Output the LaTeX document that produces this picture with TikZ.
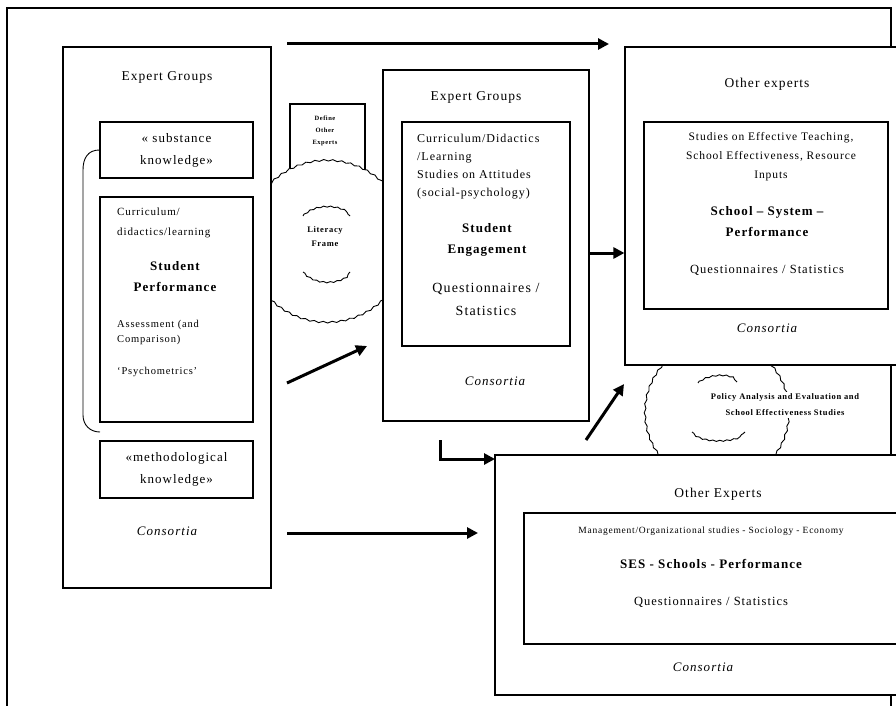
\documentclass[tikz,border=0pt]{standalone}
\usepackage{fontspec}
\setmainfont{Liberation Serif}[LetterSpace=8]
\usetikzlibrary{arrows.meta,decorations.pathmorphing}

\tikzset{
  box/.style={draw, fill=white, line width=1.2pt, inner sep=0pt},
  wavy/.style={draw, fill=white, line width=0.9pt, decorate,
    decoration={snake, amplitude=0.8pt, segment length=9pt}},
  arc/.style={line width=0.9pt, decorate,
    decoration={snake, amplitude=0.6pt, segment length=7pt}},
  flow/.style={line width=3pt, -{Triangle[length=11pt,width=11pt]}},
  head/.style={inner sep=0pt, font=\fontsize{13.5}{16}\selectfont},
  cons/.style={inner sep=0pt, font=\itshape\fontsize{13}{16}\selectfont},
  title/.style={inner sep=0pt, align=center, font=\bfseries\fontsize{13}{21}\selectfont},
  small/.style={inner sep=0pt, font=\fontsize{11}{20}\selectfont}
}

\begin{document}
\begin{tikzpicture}[x=1pt, y=-1pt]
  \useasboundingbox (0,0) rectangle (896,706);
  \draw[line width=1.2pt] (7,706) -- (7,8) -- (891,8) -- (891,706);

  \node [box, minimum width=75, minimum height=76] (def) at (327.5,142) {};
  \node [inner sep=0pt, align=center, font=\bfseries\fontsize{6.5}{12}\selectfont]
    at (325,131) {Define\\Other\\Experts};

  \path [wavy] (327,239) circle [radius=81];
  \draw [arc] (303,216) .. controls (314,205) and (339,205) .. (350,216);
  \draw [arc] (303,272) .. controls (314,284) and (339,284) .. (350,272);
  \node [inner sep=0pt, align=center, font=\bfseries\fontsize{8.5}{14}\selectfont]
    (lit) at (325,237) {Literacy\\Frame};

  \path [wavy] (717,410) circle [radius=72];
  \draw [arc] (698,383) .. controls (706,376) and (728,373) .. (737,382);
  \draw [arc] (692,432) .. controls (700,442) and (735,442) .. (745,432);

  \node [box, minimum width=208, minimum height=541] (lbox) at (167,317.5) {};
  \node [head] at (167,77) {Expert Groups};
  \node [box, minimum width=153, minimum height=56, align=center,
    font=\fontsize{13}{22}\selectfont] (subs) at (176.5,150)
    {« substance\\knowledge»};
  \node [box, minimum width=153, minimum height=225] (curr) at (176.5,309.5) {};
  \node [small, align=left, anchor=west] at (117,223) {Curriculum/\\didactics/learning};
  \node [title] at (175,277) {Student\\Performance};
  \node [inner sep=0pt, align=left, anchor=west, font=\fontsize{10.5}{15}\selectfont]
    at (117,332) {Assessment (and\\Comparison)};
  \node [inner sep=0pt, anchor=west, font=\fontsize{10.5}{15}\selectfont]
    at (117,372) {‘Psychometrics’};
  \node [box, minimum width=153, minimum height=57, align=center,
    font=\fontsize{13}{22}\selectfont] (meth) at (176.5,469.5)
    {«methodological\\knowledge»};
  \node [cons] at (167,531) {Consortia};
  \draw [line width=0.9pt] (subs.west) .. controls (88,150) and (83,158) .. (83,170)
    -- (83,415) .. controls (83,425) and (90,432) .. (100,432);

  \node [box, minimum width=206, minimum height=351] (mid) at (486,245.5) {};
  \node [head] at (476,97) {Expert Groups};
  \node [box, minimum width=168, minimum height=224] (midin) at (486,234) {};
  \node [inner sep=0pt, align=left, anchor=west, font=\fontsize{12}{18}\selectfont]
    at (417,167) {Curriculum/Didactics\\/Learning\\Studies on Attitudes\\(social-psychology)};
  \node [title] at (487,240) {Student\\Engagement};
  \node [inner sep=0pt, align=center, font=\fontsize{14}{23}\selectfont]
    at (486,299) {Questionnaires /\\Statistics};
  \node [cons] at (495,381) {Consortia};

  \node [box, minimum width=280, minimum height=318] (rt) at (765,206) {};
  \node [head] at (767,84) {Other experts};
  \node [box, minimum width=244, minimum height=187] (rtin) at (766,215.5) {};
  \node [inner sep=0pt, align=center, font=\fontsize{11.5}{19}\selectfont]
    at (771,157) {Studies on Effective Teaching,\\School Effectiveness, Resource\\Inputs};
  \node [title] at (767,222) {School -- System --\\Performance};
  \node [inner sep=0pt, font=\fontsize{12.5}{16}\selectfont]
    at (767,270) {Questionnaires / Statistics};
  \node [cons] at (767,328) {Consortia};

  \node [box, minimum width=410, minimum height=240] (bot) at (700,575) {};
  \node [head] at (718,494) {Other Experts};
  \node [box, minimum width=381, minimum height=131] (botin) at (714.5,578.5) {};
  \node [inner sep=0pt, font=\fontsize{9.5}{12}\selectfont]
    at (711,531) {Management/Organizational studies - Sociology - Economy};
  \node [title] at (711,564) {SES - Schools - Performance};
  \node [inner sep=0pt, font=\fontsize{12.5}{16}\selectfont]
    at (711,602) {Questionnaires / Statistics};
  \node [cons] at (703,667) {Consortia};

  \node [fill=white, inner sep=2pt, align=center,
    font=\bfseries\fontsize{8.5}{16}\selectfont]
    (pol) at (785,405) {Policy Analysis and Evaluation and\\School Effectiveness Studies};

  \coordinate (topS) at (287,44);
  \coordinate (topE) at (609,44);
  \coordinate (midS) at (589,253);
  \coordinate (diaS) at (287,383);
  \coordinate (diaE) at (367,346);
  \coordinate (bendS) at (440,440);
  \coordinate (bendE) at (495,459);
  \coordinate (polS) at (586,440);
  \coordinate (polE) at (624,384);
  \coordinate (lowS) at (287,533);
  \coordinate (lowE) at (478,533);
  \draw [flow] (topS) -- (topE);
  \draw [flow] (midS) -- (midS -| rt.west);
  \draw [flow] (diaS) -- (diaE);
  \draw [flow] (bendS) |- (bendE);
  \draw [flow] (polS) -- (polE);
  \draw [flow] (lowS) -- (lowE);
\end{tikzpicture}
\end{document}
